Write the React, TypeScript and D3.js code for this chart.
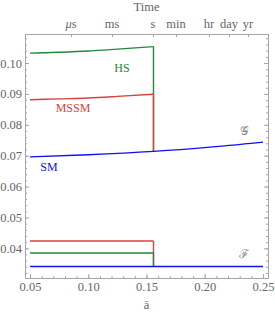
import React, { useEffect, useRef } from "react";
import * as d3 from "d3";

// upper branch (before the transition)
const aUpper = [0.05, 0.075, 0.1, 0.125, 0.156];
const hsUpper = [0.1032, 0.1035, 0.1039, 0.1045, 0.1053];
const mssmUpper = [0.0881, 0.0884, 0.0887, 0.0892, 0.0899];

// SM curve (G), runs across the whole range
const aSM = [0.05, 0.1, 0.156, 0.2, 0.25];
const smUpper = [0.0696, 0.0703, 0.0714, 0.0726, 0.0744];

// lower branch (F)
const aLower = [0.05, 0.156];
const hsLower = [0.0385, 0.0385];
const mssmLower = [0.0424, 0.0424];
const aFlat = [0.05, 0.25];
const smLower = [0.0341, 0.0341];

const aTransition = 0.156;
const gAtTransition = 0.0714;
const fAtTransition = 0.0341;

const xTicks = [0.05, 0.1, 0.15, 0.2, 0.25];
const yTicks = [0.04, 0.05, 0.06, 0.07, 0.08, 0.09, 0.1];

const timeLabels = ["μs", "ms", "s", "min", "hr", "day", "yr"];
const timeTicks = [0.0852, 0.1204, 0.1556, 0.1753, 0.2036, 0.2208, 0.2371];

const labels = [
	{ text: "HS", a: 0.129, v: 0.0984, color: "#22893c", italic: false },
	{ text: "MSSM", a: 0.0869, v: 0.0855, color: "#d8433b", italic: false },
	{ text: "SM", a: 0.0663, v: 0.0664, color: "#1010f0", italic: false },
	{ text: "𝒢", a: 0.2337, v: 0.0781, color: "#8a8a8a", italic: false },
	{ text: "ℱ", a: 0.2337, v: 0.0381, color: "#8a8a8a", italic: false },
];

const GREEN = "#22893c";
const RED = "#d8433b";
const BLUE = "#1010f0";

const App = () => {
	const svgRef = useRef(null);

	useEffect(() => {
		const svg = d3.select(svgRef.current);
		svg.selectAll("*").remove();

		const margin = { top: 34, left: 25 };
		const width = 243;
		const height = 244;
		const font = "'Liberation Serif', 'DejaVu Serif', serif";
		const grey = "#666";

		const x = d3.scaleLinear().domain([0.0457, 0.2543]).range([0, width]);
		const y = d3.scaleLinear().domain([0.0304, 0.1094]).range([height, 0]);

		const g = svg
			.append("g")
			.attr("transform", `translate(${margin.left},${margin.top})`);

		const styleAxis = (sel) => {
			sel.attr("font-family", null);
			sel.select(".domain").attr("stroke", "#a6a6a6");
			sel.selectAll(".tick line").attr("stroke", "#a6a6a6");
			sel
				.selectAll(".tick text")
				.attr("fill", grey)
				.style("font-family", font)
				.style("font-size", "12.5px");
		};

		// minor ticks
		const xMinor = d3.range(0.05, 0.2501, 0.01);
		const yMinor = d3.range(0.032, 0.1081, 0.002);

		g.append("g")
			.attr("transform", `translate(0,${height})`)
			.call(d3.axisBottom(x).tickValues(xMinor).tickSize(-2).tickFormat(() => ""))
			.call(styleAxis);
		g.append("g")
			.call(d3.axisLeft(y).tickValues(yMinor).tickSize(-2).tickFormat(() => ""))
			.call(styleAxis);
		g.append("g")
			.attr("transform", `translate(${width},0)`)
			.call(d3.axisRight(y).tickValues(yMinor).tickSize(-2).tickFormat(() => ""))
			.call(styleAxis);

		// major ticks
		g.append("g")
			.attr("transform", `translate(0,${height})`)
			.call(
				d3.axisBottom(x).tickValues(xTicks).tickSize(-4).tickPadding(4).tickFormat(d3.format(".2f"))
			)
			.call(styleAxis);
		g.append("g")
			.call(
				d3.axisLeft(y).tickValues(yTicks).tickSize(-4).tickPadding(3).tickFormat(d3.format(".2f"))
			)
			.call(styleAxis);
		g.append("g")
			.attr("transform", `translate(${width},0)`)
			.call(d3.axisRight(y).tickValues(yTicks).tickSize(-4).tickFormat(() => ""))
			.call(styleAxis);
		g.append("g")
			.call(d3.axisTop(x).tickValues(timeTicks).tickSize(-3).tickFormat(() => ""))
			.call(styleAxis);

		// top time labels
		g.append("g")
			.selectAll("text")
			.data(timeLabels)
			.enter()
			.append("text")
			.attr("x", (d, i) => x(timeTicks[i]))
			.attr("y", -6)
			.attr("text-anchor", "middle")
			.attr("fill", grey)
			.style("font-family", font)
			.style("font-size", "12.5px")
			.each(function (d) {
				const t = d3.select(this);
				if (d === "μs") {
					t.append("tspan").style("font-style", "italic").text("μ");
					t.append("tspan").text("s");
				} else {
					t.text(d);
				}
			});

		svg
			.append("text")
			.attr("x", margin.left + width / 2)
			.attr("y", 11)
			.attr("text-anchor", "middle")
			.attr("fill", grey)
			.style("font-family", font)
			.style("font-size", "12.5px")
			.text("Time");

		svg
			.append("text")
			.attr("x", margin.left + x(0.15))
			.attr("y", 309)
			.attr("text-anchor", "middle")
			.attr("fill", grey)
			.style("font-family", font)
			.style("font-size", "12.5px")
			.text("ā");

		// curves
		const line = d3
			.line()
			.x((d) => x(d[0]))
			.y((d) => y(d[1]))
			.curve(d3.curveMonotoneX);
		const straight = d3
			.line()
			.x((d) => x(d[0]))
			.y((d) => y(d[1]));

		const drawBranch = (as, vs, color, dropTo) => {
			const pts = as.map((a, i) => [a, vs[i]]);
			g.append("path")
				.datum(pts)
				.attr("d", line)
				.attr("fill", "none")
				.attr("stroke", color)
				.attr("stroke-width", 1.4);
			if (dropTo !== null) {
				g.append("path")
					.datum([
						[aTransition, vs[vs.length - 1]],
						[aTransition, dropTo],
					])
					.attr("d", straight)
					.attr("fill", "none")
					.attr("stroke", color)
					.attr("stroke-width", 1.4);
			}
		};

		drawBranch(aUpper, hsUpper, GREEN, gAtTransition);
		drawBranch(aUpper, mssmUpper, RED, gAtTransition);
		drawBranch(aLower, mssmLower, RED, fAtTransition);
		drawBranch(aLower, hsLower, GREEN, fAtTransition);
		drawBranch(aSM, smUpper, BLUE, null);
		drawBranch(aFlat, smLower, BLUE, null);

		// curve labels
		g.append("g")
			.selectAll("text")
			.data(labels)
			.enter()
			.append("text")
			.attr("x", (d) => x(d.a))
			.attr("y", (d) => y(d.v))
			.attr("dy", "0.35em")
			.attr("text-anchor", "middle")
			.attr("fill", (d) => d.color)
			.style("font-family", font)
			.style("font-style", (d) => (d.italic ? "italic" : "normal"))
			.style("font-size", "12px")
			.text((d) => d.text);
	}, []);

	return (
		<div style={{ position: "absolute", left: 0, top: 0 }}>
			<svg ref={svgRef} width="275" height="314"></svg>
		</div>
	);
};

export default App;
